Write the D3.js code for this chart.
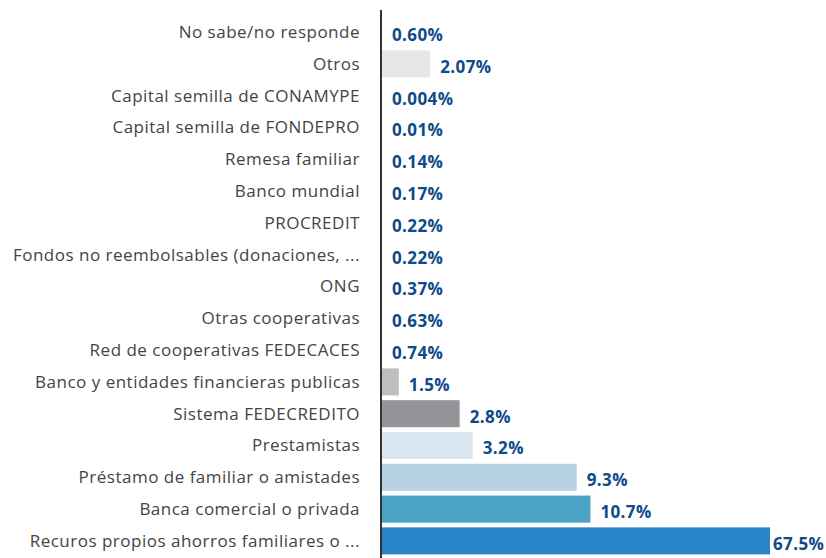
<!DOCTYPE html>
<html>
<head>
<meta charset="utf-8">
<script src="https://cdn.jsdelivr.net/npm/d3@7/dist/d3.min.js"></script>
<style>
  html, body { margin: 0; padding: 0; background: #ffffff; }
  svg { display: block; }
</style>
</head>
<body>
<svg id="chart" width="826" height="558"></svg>
<script>
// Fuentes de financiamiento (porcentaje de respuestas)
const categories = [
  "No sabe/no responde",
  "Otros",
  "Capital semilla de CONAMYPE",
  "Capital semilla de FONDEPRO",
  "Remesa familiar",
  "Banco mundial",
  "PROCREDIT",
  "Fondos no reembolsables (donaciones, ...",
  "ONG",
  "Otras cooperativas",
  "Red de cooperativas FEDECACES",
  "Banco y entidades financieras publicas",
  "Sistema FEDECREDITO",
  "Prestamistas",
  "Préstamo de familiar o amistades",
  "Banca comercial o privada",
  "Recuros propios ahorros familiares o ..."
];
const valueLabels = [
  "0.60%", "2.07%", "0.004%", "0.01%", "0.14%", "0.17%", "0.22%", "0.22%",
  "0.37%", "0.63%", "0.74%", "1.5%", "2.8%", "3.2%", "9.3%", "10.7%", "67.5%"
];
const values = [
  0.60, 2.07, 0.004, 0.01, 0.14, 0.17, 0.22, 0.22,
  0.37, 0.63, 0.74, 1.5, 2.8, 3.2, 9.3, 10.7, 67.5
];
const barColors = [
  "#e6e7e8", "#e6e7e8", "#e6e7e8", "#e6e7e8", "#e6e7e8", "#e6e7e8", "#e6e7e8", "#e6e7e8",
  "#e6e7e8", "#e6e7e8", "#e6e7e8", "#bcbec0", "#939598", "#dbe7f0", "#b8d2e5", "#4aa2c4", "#2885c7"
];

const W = 826, H = 558;
const axisX = 381;
const svg = d3.select("#chart");

const rows = categories.map((c, i) => ({ cat: c, value: values[i], label: valueLabels[i], color: barColors[i] }));

const y = d3.scaleBand()
  .domain(categories)
  .range([17, 556])
  .paddingInner(0.15)
  .paddingOuter(0.05);

// Logarithmic length scale; shares below the lower bound draw no bar
const x = d3.scaleLog()
  .domain([1.25, 67.5])
  .range([0, 389])
  .clamp(true);

const g = svg.append("g");

// bars
g.selectAll("rect.bar")
  .data(rows)
  .join("rect")
  .attr("class", "bar")
  .attr("x", axisX)
  .attr("y", d => y(d.cat))
  .attr("width", d => x(d.value))
  .attr("height", y.bandwidth())
  .attr("fill", d => d.color);

// category labels
g.selectAll("text.cat")
  .data(rows)
  .join("text")
  .attr("class", "cat")
  .attr("x", 360)
  .attr("y", d => y(d.cat) + y.bandwidth() / 2)
  .attr("dy", "0.35em")
  .attr("text-anchor", "end")
  .attr("font-family", "'Open Sans', sans-serif")
  .attr("font-size", 17)
  .attr("letter-spacing", 0.5)
  .attr("fill", "#444444")
  .text(d => d.cat);

// value labels
const vals = g.selectAll("text.val")
  .data(rows)
  .join("text")
  .attr("class", "val")
  .attr("y", d => y(d.cat) + y.bandwidth() / 2 + 3)
  .attr("dy", "0.35em")
  .attr("font-family", "'Open Sans', sans-serif")
  .attr("font-weight", 700)
  .attr("font-size", 17)
  .attr("letter-spacing", 0.4)
  .attr("fill", "#0f4a8a")
  .text(d => d.label);

// place each label after its bar, nudged in only if it would leave the canvas
vals.attr("x", function (d) {
  const w = x(d.value);
  const end = axisX + w;
  const pos = end + (w > 0 ? 10 : 11);
  const tw = this.getComputedTextLength();
  return Math.max(end + 3, Math.min(pos, W - 2 - tw));
});

// vertical axis line
svg.append("line")
  .attr("x1", axisX).attr("x2", axisX)
  .attr("y1", 10).attr("y2", H)
  .attr("stroke", "#333333")
  .attr("stroke-width", 2);
</script>
</body>
</html>
